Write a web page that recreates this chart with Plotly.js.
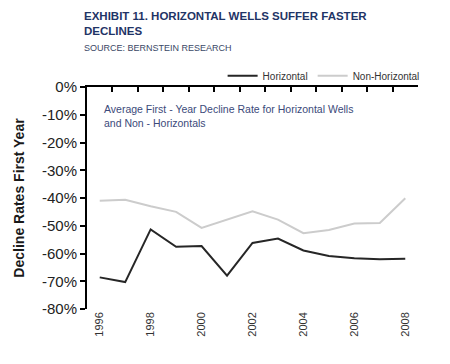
<!DOCTYPE html>
<html>
<head>
<meta charset="utf-8">
<script src="https://cdn.plot.ly/plotly-3.0.1.min.js"></script>
<style>html,body{margin:0;padding:0;background:#fff;}#chart{width:450px;height:364px;}</style>
</head>
<body>
<div id="chart"></div>
<script>
const years = [1996,1997,1998,1999,2000,2001,2002,2003,2004,2005,2006,2007,2008];
const horizontal = [-68.6,-70.3,-51.3,-57.6,-57.3,-68.0,-56.2,-54.6,-58.9,-60.9,-61.7,-62.1,-61.9];
const nonHorizontal = [-41.0,-40.6,-43.0,-45.0,-50.8,-47.8,-44.8,-47.8,-52.7,-51.5,-49.2,-49.0,-40.1];
const yTicks = [0,-10,-20,-30,-40,-50,-60,-70,-80];
const xLabelYears = [1996,1998,2000,2002,2004,2006,2008];

const traces = [
  {x: years, y: horizontal, name: 'Horizontal', type: 'scatter', mode: 'lines',
   line: {color: '#262626', width: 2}},
  {x: years, y: nonHorizontal, name: 'Non-Horizontal', type: 'scatter', mode: 'lines',
   line: {color: '#cccccc', width: 2}},
  {x: [years[0]], y: [0], xaxis: 'x2', yaxis: 'y', showlegend: false, hoverinfo: 'skip',
   mode: 'markers', marker: {opacity: 0}}
];

const layout = {
  width: 450, height: 364,
  margin: {l: 87, r: 32, t: 87, b: 55},
  paper_bgcolor: '#fff', plot_bgcolor: '#fff',
  font: {family: 'Liberation Sans, Arial, sans-serif', color: '#222'},
  showlegend: true,
  legend: {orientation: 'h', x: 1.02, xanchor: 'right', y: 0.985, yanchor: 'bottom',
    font: {size: 10, color: '#333'}, itemwidth: 30, tracegroupgap: 0, bgcolor: 'rgba(0,0,0,0)'},
  xaxis: {range: [1995.5, 2008.5], showline: false, showgrid: false, zeroline: false,
    tickmode: 'array', tickvals: xLabelYears, ticktext: xLabelYears.map(String),
    tickangle: -90, ticks: '', tickfont: {size: 11, color: '#333'}},
  xaxis2: {overlaying: 'x', side: 'top', anchor: 'y', range: [1995.5, 2008.5],
    showline: true, linecolor: '#000', linewidth: 2, showgrid: false, zeroline: false,
    tickmode: 'linear', tick0: 1996.5, dtick: 1, ticks: 'inside', ticklen: 5,
    tickwidth: 2, tickcolor: '#000', showticklabels: false},
  yaxis: {range: [-80, 0], showline: true, linecolor: '#000', linewidth: 2,
    showgrid: false, zeroline: false, tickmode: 'array', tickvals: yTicks,
    ticktext: yTicks.map(v => v + '%'), ticks: 'outside', ticklen: 5, tickwidth: 2,
    tickcolor: '#000', tickfont: {size: 15, color: '#222'},
    title: {text: 'Decline Rates First Year', font: {size: 14, color: '#1a1a1a', weight: 600}, standoff: 14}},
  annotations: [
    {xref: 'paper', yref: 'paper', x: 0.045, y: 0.935, xanchor: 'left', yanchor: 'top', align: 'left',
     showarrow: false, text: 'Average First - Year Decline Rate for Horizontal Wells<br>and Non - Horizontals',
     font: {size: 10.5, color: '#3b4a7a'}},
    {xref: 'paper', yref: 'paper', x: -0.015, y: 1.356, xanchor: 'left', yanchor: 'top',
     align: 'left', showarrow: false,
     text: '<b>EXHIBIT 11. HORIZONTAL WELLS SUFFER FASTER<br>DECLINES</b>',
     font: {size: 11.5, color: '#1f3466'}},
    {xref: 'paper', yref: 'paper', x: -0.015, y: 1.207, xanchor: 'left', yanchor: 'top',
     align: 'left', showarrow: false, text: 'SOURCE: BERNSTEIN RESEARCH',
     font: {size: 9, color: '#3a4866'}}
  ]
};

Plotly.newPlot('chart', traces, layout, {displayModeBar: false, staticPlot: true});
</script>
</body>
</html>
